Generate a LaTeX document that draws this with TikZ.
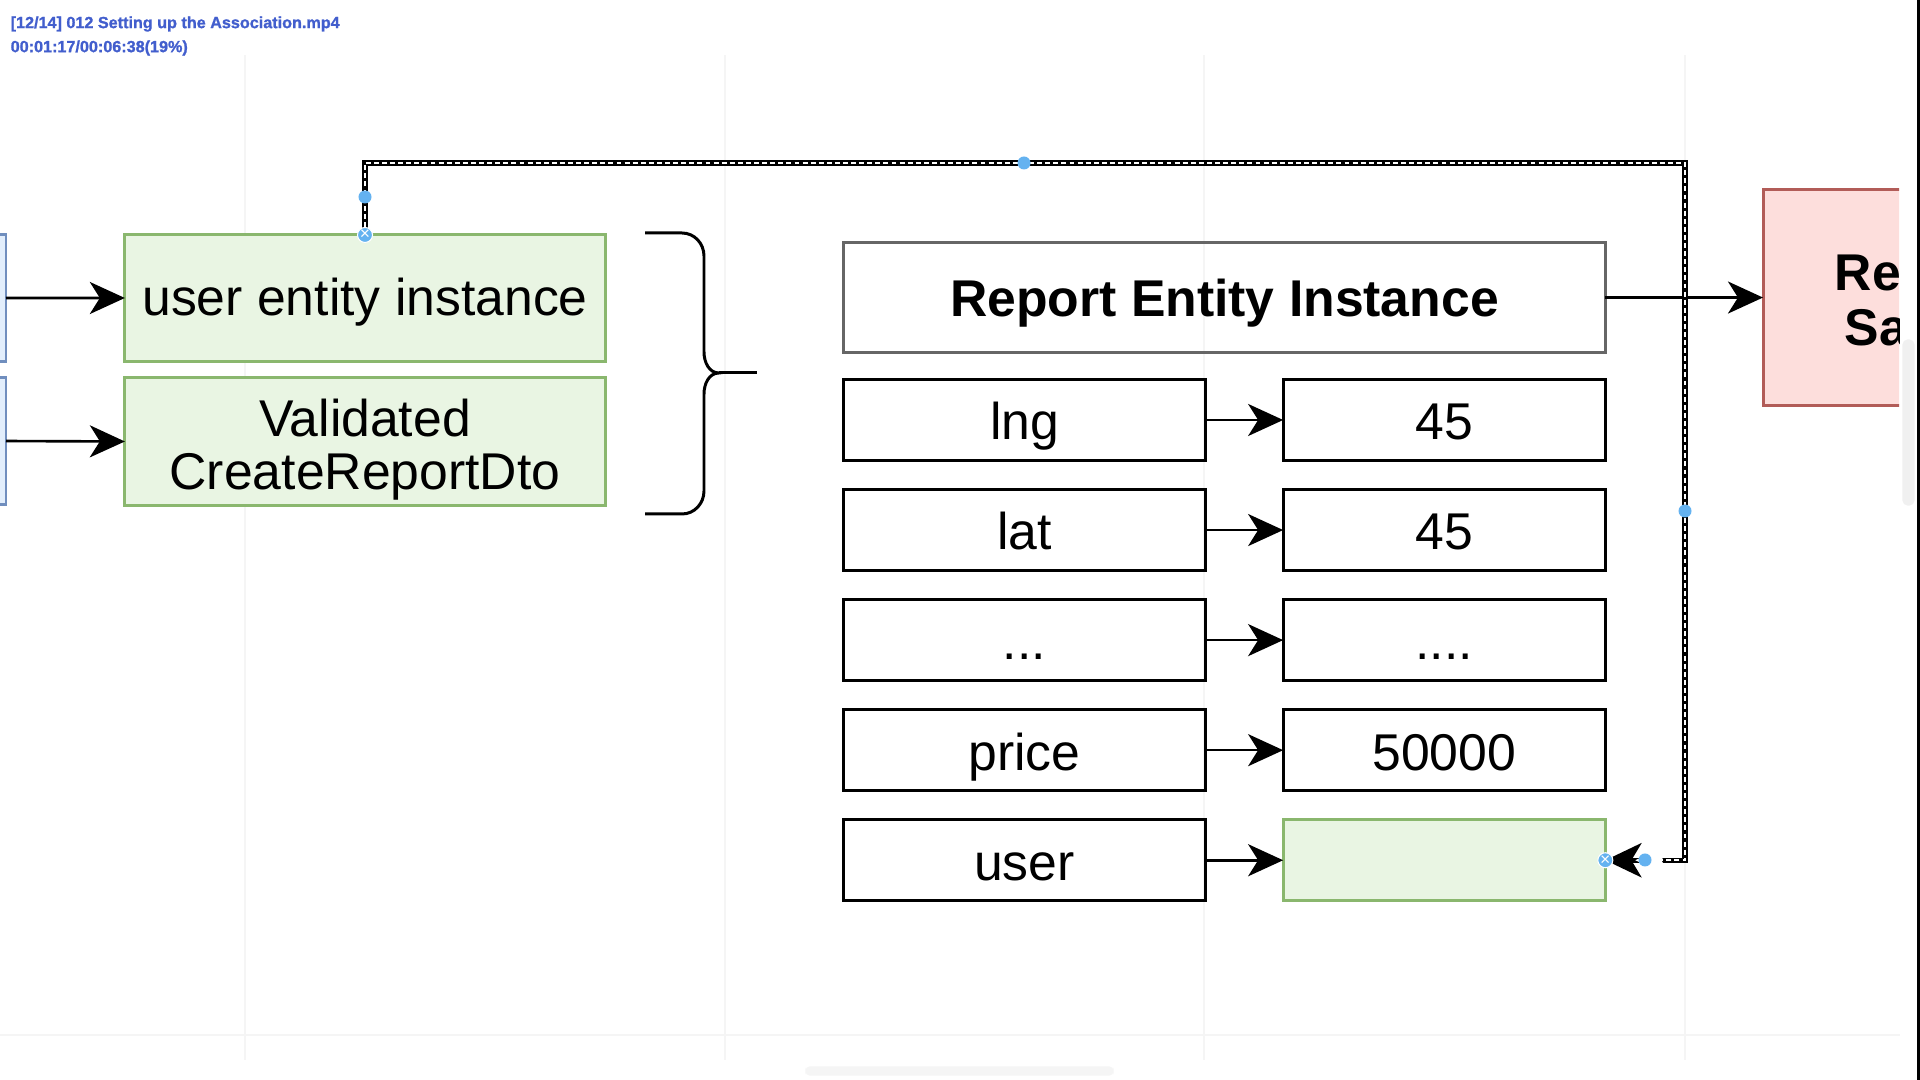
\documentclass[tikz,border=0pt]{standalone}
\usepackage{fontspec}
\setmainfont{Liberation Sans}
\newfontfamily\osdfont{Liberation Sans Bold}[FakeBold=1.2]
\usepackage{xcolor}
\usetikzlibrary{positioning, arrows.meta}

\definecolor{greenfill}{RGB}{233,245,227}
\definecolor{greenline}{RGB}{138,183,110}
\definecolor{redfill}{RGB}{253,222,220}
\definecolor{redline}{RGB}{178,92,88}
\definecolor{bluefill}{RGB}{226,238,252}
\definecolor{blueline}{RGB}{112,142,190}
\definecolor{handleblue}{RGB}{100,178,240}
\definecolor{osdblue}{RGB}{66,94,205}

\begin{document}
\begin{tikzpicture}[
  x=0.01cm, y=-0.01cm,
  font=\fontsize{14.7}{15.2}\selectfont,
  node distance=0.29cm and 0.78cm,
  field/.style={draw=black, line width=0.85pt, minimum width=3.61cm, minimum height=0.81cm, inner sep=0pt, outer sep=0pt,
    text height=11.3pt, text depth=0pt},
  value/.style={field, minimum width=3.22cm},
  entity/.style={draw=greenline, fill=greenfill, line width=0.85pt, minimum width=4.8cm, minimum height=1.26cm, align=center, inner sep=0pt, outer sep=0pt},
  source/.style={draw=blueline, fill=bluefill, line width=0.85pt, minimum width=1cm, minimum height=1.26cm, outer sep=0pt},
  report/.style={draw=black!60, line width=0.85pt, minimum width=7.61cm, minimum height=1.09cm, outer sep=0pt,
    text height=10.6pt, text depth=0pt, font=\fontsize{14.7}{15.2}\selectfont\bfseries},
  store/.style={draw=redline, fill=redfill, line width=0.85pt, minimum width=2.6cm, minimum height=2.15cm, outer sep=0pt},
  arr/.style={line width=0.75pt, -{Stealth[length=0.35cm, width=0.32cm, inset=0.1cm]}},
  selected/.style={line width=1.5pt, -{Stealth[length=0.36cm, width=0.34cm, inset=0.1cm]},
    postaction={draw=white, line width=0.5pt, dash pattern=on 1.4pt off 0.9pt, shorten >=0.3cm}},
  handle/.style={circle, fill=handleblue, inner sep=0pt, minimum size=0.13cm},
  endhandle/.style={circle, fill=handleblue, draw=white, line width=0.3pt, inner sep=0pt, minimum size=0.15cm,
    font=\fontsize{5}{5}\selectfont\color{white}},
  osd/.style={anchor=west, inner sep=0pt, text=osdblue, font=\fontsize{4.6}{5}\osdfont}
]
  \useasboundingbox (0,0) rectangle (1920,1080);

  % faint canvas grid
  \foreach \gx in {245,725,1204,1685}
    \draw[black!4, line width=0.3pt] (\gx,55) -- (\gx,1060);
  \draw[black!4, line width=0.3pt] (0,1035) -- (1900,1035);

  % Left: incoming values
  \node[source, anchor=north east] (src1) at (6,235) {};
  \node[source, anchor=north east] (src2) at (6,378) {};
  \node[entity, text height=9.9pt, text depth=0pt] (user) at (365,298) {user entity instance};
  \node[entity, minimum height=1.27cm] (dto) at (365,441.5) {\rule{0pt}{15.3pt}Validated\\CreateReportDto};
  \draw[arr] (src1.east) -- (user.west);
  \draw[arr] (src2.east) -- (dto.west);

  % brace
  \draw[line width=0.85pt] (645,233) -- (682,233) to[out=0,in=90] (704,256) -- (704,352)
    to[out=-90,in=180] (719,373) to[out=180,in=90] (704,394) -- (704,491)
    to[out=-90,in=0] (682,514) -- (645,514);
  \draw[line width=0.85pt] (719,373) -- (757,373);

  % Right: report entity and its properties
  \node[report] (report) at (1224.5,297.5) {Report Entity Instance};
  \node[field] (lng) at (1024.5,420) {lng};
  \node[field, below=of lng] (lat) {lat};
  \node[field, below=of lat] (more) {...};
  \node[field, below=of more] (price) {price};
  \node[field, below=of price] (userkey) {user};
  \node[value, right=of lng] (lngval) {45};
  \node[value, right=of lat] (latval) {45};
  \node[value, right=of more] (moreval) {....};
  \node[value, right=of price] (priceval) {50000};
  \node[value, right=of userkey, draw=greenline, fill=greenfill] (userval) {};
  \draw[arr] (lng) -- (lngval);
  \draw[arr] (lat) -- (latval);
  \draw[arr] (more) -- (moreval);
  \draw[arr] (price) -- (priceval);
  \draw[arr] (userkey) -- (userval);

  % repository box, cut off by the window
  \begin{scope}
    \clip (0,0) rectangle (1899,1080);
    \node[store, anchor=north west] (repo) at (1763,190) {};
    \node[anchor=west, inner sep=0pt, font=\fontsize{14.7}{15.2}\selectfont\bfseries] (repo1) at (1834,273) {Re};
    \node[anchor=west, inner sep=0pt, font=\fontsize{14.7}{15.2}\selectfont\bfseries] (repo2) at (1844,328) {Sa};
  \end{scope}
  \draw[arr] (report.east) -- (repo.west);

  % selected connector: user entity -> user field
  \coordinate (turn) at (1685,163);
  \draw[selected] (user.north) |- (turn) |- (userval.east);
  \node[handle] (h1) at (365,197) {};
  \node[handle] (h2) at (1024,163) {};
  \node[handle] (h3) at (1685,511) {};
  \node[handle] (h4) at (1645,860) {};
  \node[endhandle] (e1) at (user.north) {×};
  \node[endhandle] (e2) at (userval.east) {×};

  % window chrome
  \node[osd] (title) at (10,24) {[12/14] 012 Setting up the Association.mp4};
  \node[osd] (time) at (10,48) {00:01:17/00:06:38(19\%)};
  \draw[black!6, fill=black!6, rounded corners=0.05cm] (1903,340) rectangle (1914,505);
  \draw[black!4, fill=black!4, rounded corners=0.04cm] (806,1067) rectangle (1113,1075);
  \draw[black, line width=0.9pt] (1918.5,0) -- (1918.5,1080);
\end{tikzpicture}
\end{document}
